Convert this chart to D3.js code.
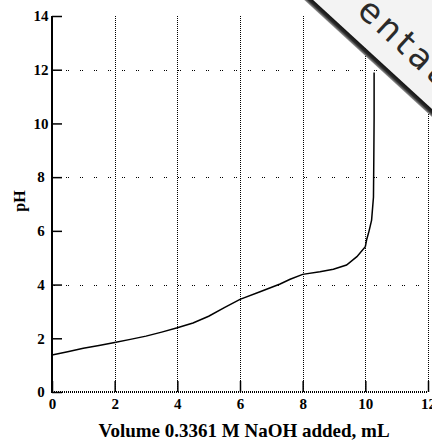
<!DOCTYPE html>
<html>
  <head>
    <meta charset="utf-8">
    <title>Titration curve</title>
    <script src="https://cdn.jsdelivr.net/npm/d3@7"></script>
    <style>
      body { margin: 0; background: #fff; }
      svg { display: block; }
    </style>
  </head>
  <body>
    <script>
const volume = [0, 0.5, 1, 1.5, 2, 2.5, 3, 3.5, 4, 4.5, 5, 5.5, 6, 6.64, 7.28, 7.6, 8,
                8.55, 8.98, 9.4, 9.73, 10, 10.04, 10.12, 10.2, 10.26, 10.27, 10.28, 10.28];
const pH = [1.38, 1.50, 1.63, 1.73, 1.84, 1.96, 2.08, 2.23, 2.39, 2.57, 2.82, 3.14, 3.45, 3.73, 4.02, 4.20, 4.38,
            4.48, 4.57, 4.73, 5.04, 5.41, 5.66, 6.0, 6.40, 7.26, 8.6, 10.2, 11.9];

const xTicks = [0, 2, 4, 6, 8, 10, 12];
const yTicks = [0, 2, 4, 6, 8, 10, 12, 14];
const yGrid = [4, 8, 12];

const xTitle = "Volume 0.3361 M NaOH added, mL";
const yTitle = "pH";
const stamp = "entation"; // only this part of the corner banner shows

const w = 432, h = 441;

const svg = d3.select("body").append("svg")
  .attr("width", w)
  .attr("height", h);

const x = d3.scaleLinear().domain([0, 12]).range([52, 428]);
const y = d3.scaleLinear().domain([0, 14]).range([392, 16]);

// vertical grid (dotted)
svg.append("g").selectAll("line")
  .data(xTicks.slice(1))
  .enter().append("line")
  .attr("x1", d => Math.round(x(d)) + 0.5).attr("x2", d => Math.round(x(d)) + 0.5)
  .attr("y1", y(14)).attr("y2", y(0))
  .attr("stroke", "#000")
  .attr("stroke-width", 1)
  .attr("stroke-dasharray", "1,1");

// horizontal grid (pairs of dots)
svg.append("g").selectAll("line")
  .data(yGrid)
  .enter().append("line")
  .attr("x1", x(0)).attr("x2", x(12))
  .attr("y1", d => Math.round(y(d)) + 0.5).attr("y2", d => Math.round(y(d)) + 0.5)
  .attr("stroke", "#000")
  .attr("stroke-width", 1)
  .attr("stroke-dasharray", "1,1,1,11");

// axes, ticks pointing inward
const yAxis = d3.axisLeft(y).tickValues(yTicks).tickSize(-10).tickPadding(11);
const gy = svg.append("g")
  .attr("transform", "translate(" + x(0) + ",0)")
  .call(yAxis);
gy.select(".domain").remove();
gy.selectAll("line").attr("stroke-width", 1.5);
gy.selectAll("text")
  .attr("text-anchor", "middle")
  .attr("x", -11)
  .attr("font-family", "Liberation Serif")
  .attr("font-weight", "bold")
  .attr("font-size", 15)
  .attr("fill", "#000");

const xAxis = d3.axisBottom(x).tickValues(xTicks).tickSize(-11).tickPadding(6);
const gx = svg.append("g")
  .attr("transform", "translate(0," + y(0) + ")")
  .call(xAxis);
gx.select(".domain").remove();
gx.selectAll("line").attr("stroke-width", 1.5);
gx.selectAll("text")
  .attr("font-family", "Liberation Serif")
  .attr("font-weight", "bold")
  .attr("font-size", 15)
  .attr("fill", "#000");

// axis lines
svg.append("line")
  .attr("x1", x(0)).attr("x2", x(0))
  .attr("y1", y(14)).attr("y2", y(0) + 1)
  .attr("stroke", "#000").attr("stroke-width", 2);
svg.append("line")
  .attr("x1", x(0)).attr("x2", x(12))
  .attr("y1", y(0)).attr("y2", y(0))
  .attr("stroke", "#000").attr("stroke-width", 2)
  .attr("stroke-dasharray", "1,1");

// titration curve
const line = d3.line()
  .x(d => x(d[0]))
  .y(d => y(d[1]));

svg.append("path")
  .datum(d3.zip(volume, pH))
  .attr("d", line)
  .attr("fill", "none")
  .attr("stroke", "#000")
  .attr("stroke-width", 1.5);

// titles
svg.append("text")
  .attr("x", 244).attr("y", 437)
  .attr("text-anchor", "middle")
  .attr("font-family", "Liberation Serif")
  .attr("font-weight", "bold")
  .attr("font-size", 19)
  .text(xTitle);

svg.append("text")
  .attr("transform", "translate(25,201) rotate(-90)")
  .attr("text-anchor", "middle")
  .attr("font-family", "Liberation Serif")
  .attr("font-weight", "bold")
  .attr("font-size", 16)
  .text(yTitle);

// corner banner
const defs = svg.append("defs");
const grad = defs.append("linearGradient")
  .attr("id", "shade")
  .attr("x1", 0).attr("y1", 0).attr("x2", 0).attr("y2", 1);
grad.append("stop").attr("offset", "0%").attr("stop-color", "#111");
grad.append("stop").attr("offset", "55%").attr("stop-color", "#2a2a2a");
grad.append("stop").attr("offset", "100%").attr("stop-color", "#999");

const banner = svg.append("g")
  .attr("transform", "translate(305,0) rotate(42.5)");
banner.append("rect")
  .attr("x", -60).attr("y", -90)
  .attr("width", 300).attr("height", 85)
  .attr("fill", "#f3f3f3");
banner.append("rect")
  .attr("x", -60).attr("y", -5.5)
  .attr("width", 300).attr("height", 6)
  .attr("fill", "url(#shade)");
banner.append("text")
  .attr("x", 46).attr("y", -25)
  .attr("font-family", "DejaVu Sans")
  .attr("font-size", 34)
  .attr("letter-spacing", 4)
  .attr("fill", "#2a2a2a")
  .text(stamp);
    </script>
  </body>
</html>
